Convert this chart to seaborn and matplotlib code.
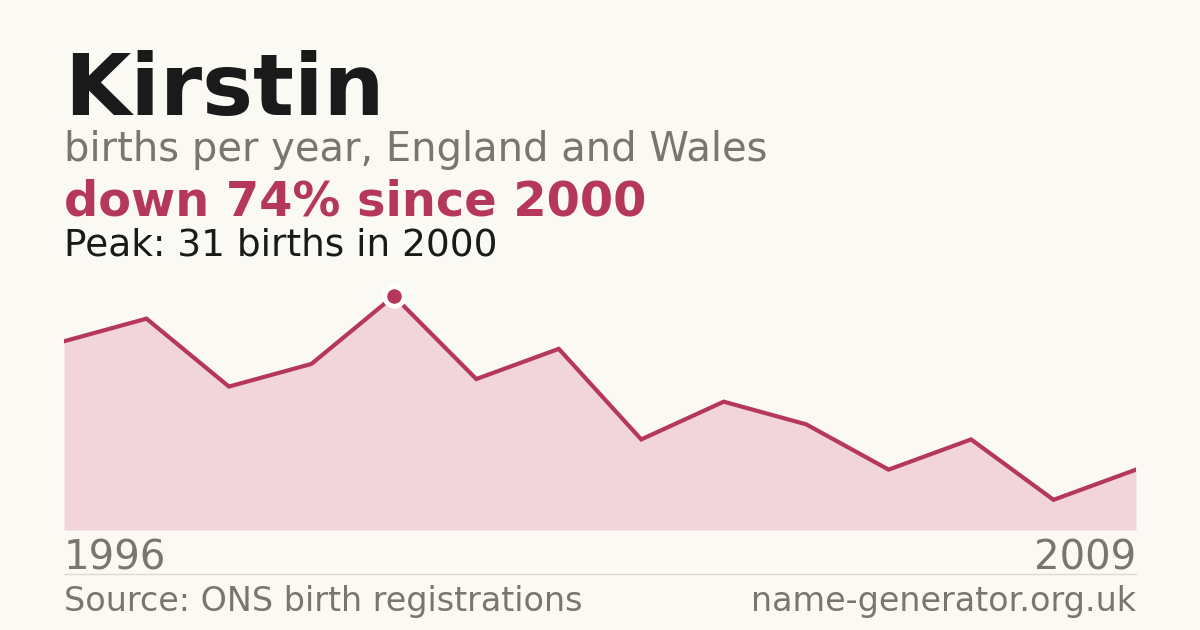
import matplotlib
matplotlib.use("Agg")
import matplotlib.pyplot as plt
import seaborn as sns
import pandas as pd

years = [1996, 1997, 1998, 1999, 2000, 2001, 2002, 2003, 2004, 2005, 2006, 2007, 2008, 2009]
births = [25, 28, 19, 22, 31, 20, 24, 12, 17, 14, 8, 12, 4, 8]
title = "Kirstin"
subtitle = "births per year, England and Wales"
headline = "down 74% since 2000"
peak_text = "Peak: 31 births in 2000"
source = "Source: ONS birth registrations"
site = "name-generator.org.uk"

BG = "#faf9f4"
RED = "#b5385a"
FILL = "#f1d5db"
GRAY = "#7a756e"

sns.set_theme(style="white")
plt.rcParams['font.family'] = ['DejaVu Sans']

df = pd.DataFrame({"year": years, "births": births})

W, H = 1200, 630
fig = plt.figure(figsize=(12, 6.3), dpi=100, facecolor=BG)
ax = fig.add_axes([64 / W, (H - 530) / H, (1136 - 64) / W, (530 - 296) / H])
ax.set_facecolor(BG)
ax.fill_between(df["year"], df["births"], 0, color=FILL, linewidth=0)
sns.lineplot(data=df, x="year", y="births", ax=ax, color=RED, linewidth=3, solid_joinstyle="miter")
pk = df["births"].idxmax()
ax.plot([df["year"][pk]], [df["births"][pk]], marker="o", markersize=14, color=RED,
        markeredgecolor="white", markeredgewidth=3.5, clip_on=False, zorder=5)
ax.set_xlim(years[0], years[-1])
ax.set_ylim(0, max(births))
ax.axis("off")

def t(x, y, s, **kw):
    fig.text(x / W, 1 - y / H, s, va="baseline", **kw)

t(64, 115, title, fontsize=61.7, fontweight="bold", color="#1a1a1a")
t(64, 161, subtitle, fontsize=28.8, color=GRAY)
t(64, 215, headline, fontsize=34.5, fontweight="bold", color=RED)
t(64, 255, peak_text, fontsize=27, color="#1a1a1a")
t(64, 570, str(years[0]), fontsize=29, color=GRAY)
t(1136, 570, str(years[-1]), fontsize=29, color=GRAY, ha="right")
t(64, 611, source, fontsize=24, color=GRAY)
t(1136, 611, site, fontsize=24, color=GRAY, ha="right")
fig.add_artist(plt.Line2D([64 / W, 1136 / W], [1 - 574 / H, 1 - 574 / H], color="#dddad3", linewidth=1))

fig.savefig("out.png", dpi=100, facecolor=BG)
